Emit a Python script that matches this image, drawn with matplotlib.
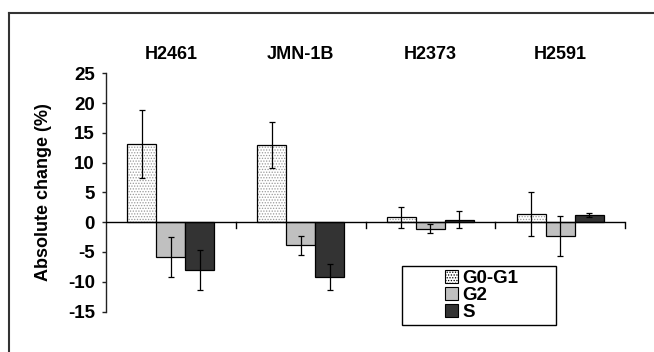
import matplotlib
matplotlib.use("Agg")
import matplotlib.pyplot as plt
import numpy as np
from matplotlib.patches import Rectangle
from matplotlib.lines import Line2D

plt.rcParams['font.family'] = ['Liberation Sans', 'DejaVu Sans']
plt.rcParams['font.weight'] = 'bold'
plt.rcParams['hatch.linewidth'] = 0.6

cell_lines = ["H2461", "JMN-1B", "H2373", "H2591"]
phases = ["G0-G1", "G2", "S"]
g0g1 = [13.1, 13.0, 0.8, 1.3]
g0g1_err = [5.7, 3.85, 1.7, 3.7]
g2 = [-5.8, -3.9, -1.1, -2.3]
g2_err = [3.35, 1.55, 0.8, 3.35]
s_vals = [-8.0, -9.2, 0.4, 1.2]
s_err = [3.4, 2.25, 1.4, 0.35]
yticks = [-15, -10, -5, 0, 5, 10, 15, 20, 25]

fig = plt.figure(figsize=(6.54, 3.52), dpi=100)
ax = fig.add_axes([106/654, 1-311.5/352, 519/654, 238.2/352])

w = 0.223
centers = np.arange(len(cell_lines)) + 0.5
ekw = dict(ecolor='black', elinewidth=0.9, capsize=2.5, capthick=0.9)

# G0-G1: stippled
ax.bar(centers - w, g0g1, w, color='white', edgecolor='#9a9a9a', linewidth=0, hatch='......', zorder=2)
ax.bar(centers - w, g0g1, w, fill=False, edgecolor='black', linewidth=0.9, zorder=3)
ax.errorbar(centers - w, g0g1, yerr=g0g1_err, fmt='none', zorder=4, **ekw)
# G2
ax.bar(centers, g2, w, color='#c0c0c0', edgecolor='black', linewidth=0.9, zorder=3)
ax.errorbar(centers, g2, yerr=g2_err, fmt='none', zorder=4, **ekw)
# S
ax.bar(centers + w, s_vals, w, color='#333333', edgecolor='black', linewidth=0.9, zorder=3)
ax.errorbar(centers + w, s_vals, yerr=s_err, fmt='none', zorder=4, **ekw)

ax.set_xlim(0, len(cell_lines))
ax.set_ylim(-15, 25)
ax.axhline(0, color='black', linewidth=1.0, zorder=5)

for sp in ['top', 'right', 'bottom']:
    ax.spines[sp].set_visible(False)
ax.spines['left'].set_linewidth(1.0)
ax.spines['left'].set_color('#222222')

ax.set_yticks(yticks)
ax.set_yticklabels([str(v) for v in yticks], fontsize=13.5, fontweight='bold')
ax.tick_params(axis='y', length=3, width=1.0, pad=5, color='#222222')
ax.set_xticks([])

# group boundary tick marks down from zero line
for xb in range(1, len(cell_lines) + 1):
    ax.plot([xb, xb], [0, -1.0], color='black', linewidth=1.0, zorder=5, clip_on=False)

for c, name in zip(centers, cell_lines):
    ax.text(c, 1.077, name, transform=ax.get_xaxis_transform(), ha='center', va='center',
            fontsize=13, fontweight='bold')

ax.set_ylabel("Absolute change (%)", fontsize=13, fontweight='bold')
ax.yaxis.set_label_coords(-0.104, 0.5)

# legend
handles = [
    Rectangle((0, 0), 1, 1, facecolor='white', edgecolor='black', hatch='......', linewidth=0.8),
    Rectangle((0, 0), 1, 1, facecolor='#c0c0c0', edgecolor='black', linewidth=0.8),
    Rectangle((0, 0), 1, 1, facecolor='#333333', edgecolor='black', linewidth=0.8),
]
lx0, lx1, ly0, ly1 = 402/654, 556/654, 1-325.3/352, 1-266/352
fig.patches.append(Rectangle((lx0, ly0), lx1-lx0, ly1-ly0, transform=fig.transFigure,
                             fill=False, edgecolor='black', linewidth=1.0))
fig.legend(handles, phases, loc='center', bbox_to_anchor=((lx0+lx1)/2 + 0.004, (ly0+ly1)/2),
           frameon=False, prop={'size': 13.5, 'weight': 'bold'}, handlelength=0.7,
           handleheight=0.7, handletextpad=0.2, labelspacing=0.0, borderpad=0)

# outer frame: top and left lines
fig.add_artist(Line2D([9/654, 1], [1-13/352, 1-13/352], transform=fig.transFigure, color='#333333', linewidth=1.5))
fig.add_artist(Line2D([9/654, 9/654], [0, 1-13/352], transform=fig.transFigure, color='#333333', linewidth=1.5))

fig.savefig("out.png", dpi=100)
